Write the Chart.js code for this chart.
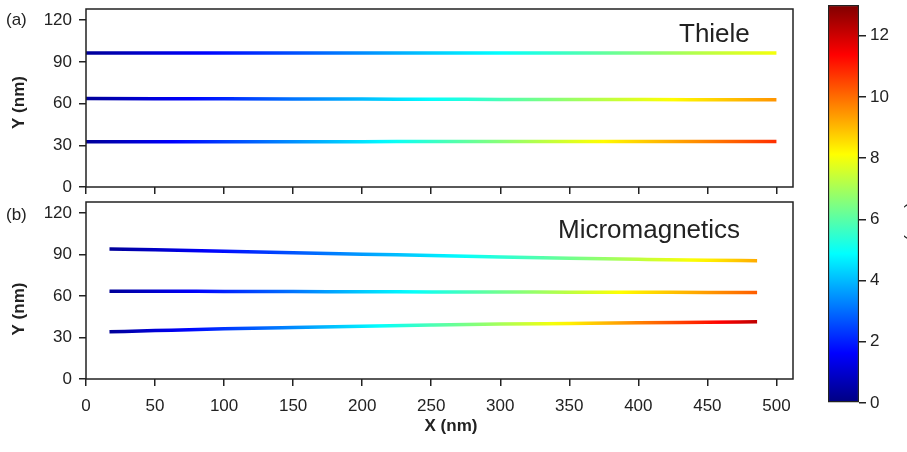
<!DOCTYPE html>
<html>
<head>
<meta charset="utf-8">
<script src="https://cdn.jsdelivr.net/npm/chart.js@4"></script>
<style>
  html, body { margin: 0; padding: 0; background: #fff; }
  #wrap { position: relative; width: 907px; height: 452px; overflow: hidden; }
  canvas { position: absolute; }
</style>
</head>
<body>
<div id="wrap">
  <canvas id="topPanel" width="830" height="200" style="left:0;top:0"></canvas>
  <canvas id="bottomPanel" width="830" height="257" style="left:0;top:195px"></canvas>
  <canvas id="colorBar" width="87" height="452" style="left:820px;top:0"></canvas>
</div>
<script>
// ---- data ----
const xTicks = [0, 50, 100, 150, 200, 250, 300, 350, 400, 450, 500];
const yTicks = [0, 30, 60, 90, 120];
const cbTicks = [0, 2, 4, 6, 8, 10, 12];
const cbRange = [0, 13];

// (a) Thiele
const thieleX = [0, 50, 100, 150, 200, 250, 300, 350, 400, 450, 500];
const thieleTopY = [96.4, 96.4, 96.4, 96.4, 96.4, 96.4, 96.4, 96.4, 96.4, 96.4, 96.4];
const thieleTopV = [0.3, 1.1, 1.85, 2.6, 3.4, 4.2, 4.9, 5.7, 6.5, 7.3, 8.0];
const thieleMidY = [63.6, 63.5, 63.4, 63.3, 63.2, 63.1, 63.0, 62.9, 62.9, 62.8, 62.7];
const thieleMidV = [0.3, 1.2, 2.1, 3.1, 4.0, 4.9, 5.8, 6.8, 7.7, 8.6, 9.5];
const thieleBotY = [32.5, 32.5, 32.6, 32.6, 32.6, 32.7, 32.7, 32.7, 32.8, 32.8, 32.8];
const thieleBotV = [0.3, 1.35, 2.4, 3.45, 4.5, 5.55, 6.6, 7.65, 8.7, 9.75, 10.8];

// (b) Micromagnetics
const mmX = [17, 50, 100, 150, 200, 250, 300, 350, 400, 450, 486];
const mmTopY = [94.1, 93.5, 92.4, 91.3, 90.3, 89.3, 88.3, 87.4, 86.6, 85.9, 85.6];
const mmTopV = [0.3, 0.9, 1.8, 2.7, 3.6, 4.5, 5.4, 6.3, 7.3, 8.3, 9.2];
const mmMidY = [63.5, 63.5, 63.3, 63.2, 63.1, 63.0, 62.9, 62.8, 62.7, 62.6, 62.5];
const mmMidV = [0.3, 1.0, 2.05, 3.1, 4.2, 5.2, 6.3, 7.3, 8.4, 9.4, 10.2];
const mmBotY = [34.1, 35.0, 36.3, 37.3, 38.2, 39.0, 39.7, 40.2, 40.7, 41.1, 41.4];
const mmBotV = [0.3, 1.1, 2.3, 3.4, 4.6, 5.8, 7.0, 8.3, 9.7, 11.1, 12.2];

const VMAX = 13;
const INK = '#222';
Chart.defaults.font.family = '"Liberation Sans", Arial, sans-serif';
Chart.defaults.color = INK;

function clamp(v) { return Math.max(0, Math.min(1, v)); }
function jet(t) {
  t = clamp(t);
  const r = clamp(1.5 - Math.abs(4 * t - 3));
  const g = clamp(1.5 - Math.abs(4 * t - 2));
  const b = clamp(1.5 - Math.abs(4 * t - 1));
  return `rgb(${Math.round(r * 255)},${Math.round(g * 255)},${Math.round(b * 255)})`;
}

// horizontal gradient along a line, coloured by the value at each point
function lineGradient(ctx, xs, vs) {
  const chart = ctx.chart;
  if (!chart.chartArea) return '#000';
  const sx = chart.scales.x;
  const x0 = sx.getPixelForValue(xs[0]);
  const x1 = sx.getPixelForValue(xs[xs.length - 1]);
  const g = chart.ctx.createLinearGradient(x0, 0, x1, 0);
  for (let i = 0; i < xs.length - 1; i++) {
    for (let k = 0; k < 4; k++) {
      const f = k / 4;
      const x = xs[i] + f * (xs[i + 1] - xs[i]);
      const v = vs[i] + f * (vs[i + 1] - vs[i]);
      g.addColorStop((sx.getPixelForValue(x) - x0) / (x1 - x0), jet(v / VMAX));
    }
  }
  g.addColorStop(1, jet(vs[vs.length - 1] / VMAX));
  return g;
}

function series(xs, ys, vs) {
  return {
    data: xs.map((x, i) => ({ x: x, y: ys[i] })),
    borderColor: ctx => lineGradient(ctx, xs, vs),
    borderWidth: 3.5,
    pointRadius: 0,
    cubicInterpolationMode: 'monotone',
    borderCapStyle: 'butt'
  };
}

// no extra label padding: plot area is set by layout padding only
function noPad(s) {
  s.paddingTop = 0; s.paddingBottom = 0; s.paddingLeft = 0; s.paddingRight = 0;
}

const framePlugin = {
  id: 'frame',
  afterDraw(chart) {
    const a = chart.chartArea;
    const c = chart.ctx;
    c.save();
    c.strokeStyle = INK;
    c.lineWidth = 1.5;
    c.strokeRect(a.left, a.top, a.right - a.left, a.bottom - a.top);
    c.restore();
  }
};

const notesPlugin = {
  id: 'notes',
  afterDraw(chart, args, opts) {
    const c = chart.ctx;
    (opts.items || []).forEach(it => {
      c.save();
      c.font = it.font;
      c.fillStyle = INK;
      c.textAlign = it.align || 'left';
      c.textBaseline = it.baseline || 'alphabetic';
      c.translate(it.x, it.y);
      if (it.rotate) c.rotate(it.rotate);
      c.fillText(it.text, 0, 0);
      c.restore();
    });
  }
};

const tickGrid = { drawOnChartArea: false, drawTicks: true, tickLength: 7, color: INK, lineWidth: 1.5 };

function panelOptions(padding, showX, xHeight, notes) {
  return {
    responsive: false,
    animation: false,
    devicePixelRatio: 1,
    layout: { padding: padding },
    plugins: { legend: { display: false }, tooltip: { enabled: false }, notes: { items: notes } },
    scales: {
      x: {
        type: 'linear', min: 0, max: 512,
        afterBuildTicks: s => { s.ticks = xTicks.map(v => ({ value: v })); },
        afterFit: s => { s.height = xHeight; noPad(s); },
        grid: tickGrid,
        border: { display: false },
        ticks: { display: showX, padding: 10, font: { size: 17 }, color: INK }
      },
      y: {
        min: 0, max: 128,
        afterBuildTicks: s => { s.ticks = yTicks.map(v => ({ value: v })); },
        afterFit: s => { s.width = 86; noPad(s); },
        grid: tickGrid,
        border: { display: false },
        ticks: { padding: 7, font: { size: 17 }, color: INK }
      }
    }
  };
}

new Chart(document.getElementById('topPanel'), {
  type: 'line',
  data: { datasets: [
    series(thieleX, thieleTopY, thieleTopV),
    series(thieleX, thieleMidY, thieleMidV),
    series(thieleX, thieleBotY, thieleBotV)
  ] },
  options: panelOptions({ top: 9, right: 37, left: 0, bottom: 0 }, false, 13, [
    { text: '(a)', x: 6, y: 20, font: '17px "Liberation Sans", Arial', baseline: 'middle' },
    { text: 'Thiele', x: 679, y: 42, font: '26px "Liberation Sans", Arial' },
    { text: 'Y (nm)', x: 19.5, y: 102.5, font: 'bold 17px "Liberation Sans", Arial', align: 'center', baseline: 'middle', rotate: -Math.PI / 2 }
  ]),
  plugins: [framePlugin, notesPlugin]
});

new Chart(document.getElementById('bottomPanel'), {
  type: 'line',
  data: { datasets: [
    series(mmX, mmTopY, mmTopV),
    series(mmX, mmMidY, mmMidV),
    series(mmX, mmBotY, mmBotV)
  ] },
  options: panelOptions({ top: 7, right: 37, left: 0, bottom: 0 }, true, 73, [
    { text: '(b)', x: 6, y: 20.5, font: '17px "Liberation Sans", Arial', baseline: 'middle' },
    { text: 'Micromagnetics', x: 558, y: 43, font: '26px "Liberation Sans", Arial' },
    { text: 'Y (nm)', x: 19.5, y: 114, font: 'bold 17px "Liberation Sans", Arial', align: 'center', baseline: 'middle', rotate: -Math.PI / 2 },
    { text: 'X (nm)', x: 451, y: 231, font: 'bold 17px "Liberation Sans", Arial', align: 'center', baseline: 'middle' }
  ]),
  plugins: [framePlugin, notesPlugin]
});

new Chart(document.getElementById('colorBar'), {
  type: 'bar',
  data: {
    labels: [''],
    datasets: [{
      data: [cbRange],
      barPercentage: 1,
      categoryPercentage: 1,
      borderWidth: 1.5,
      borderColor: INK,
      borderSkipped: false,
      backgroundColor: ctx => {
        const a = ctx.chart.chartArea;
        if (!a) return '#888';
        const g = ctx.chart.ctx.createLinearGradient(0, a.bottom, 0, a.top);
        for (let i = 0; i <= 32; i++) g.addColorStop(i / 32, jet(i / 32));
        return g;
      }
    }]
  },
  options: {
    responsive: false,
    animation: false,
    devicePixelRatio: 1,
    layout: { padding: { top: 5, bottom: 49, left: 8, right: 0 } },
    plugins: { legend: { display: false }, tooltip: { enabled: false }, notes: { items: [
      { text: 'v (m/s)', x: 92, y: 215, font: '17px "Liberation Sans", Arial', align: 'center', baseline: 'middle', rotate: Math.PI / 2 }
    ] } },
    scales: {
      x: { display: false },
      y: {
        position: 'right', min: cbRange[0], max: cbRange[1],
        afterBuildTicks: s => { s.ticks = cbTicks.map(v => ({ value: v })); },
        afterFit: s => { s.width = 48; noPad(s); },
        grid: tickGrid,
        border: { display: false },
        ticks: { padding: 4, font: { size: 17 }, color: INK }
      }
    }
  },
  plugins: [notesPlugin]
});
</script>
</body>
</html>
